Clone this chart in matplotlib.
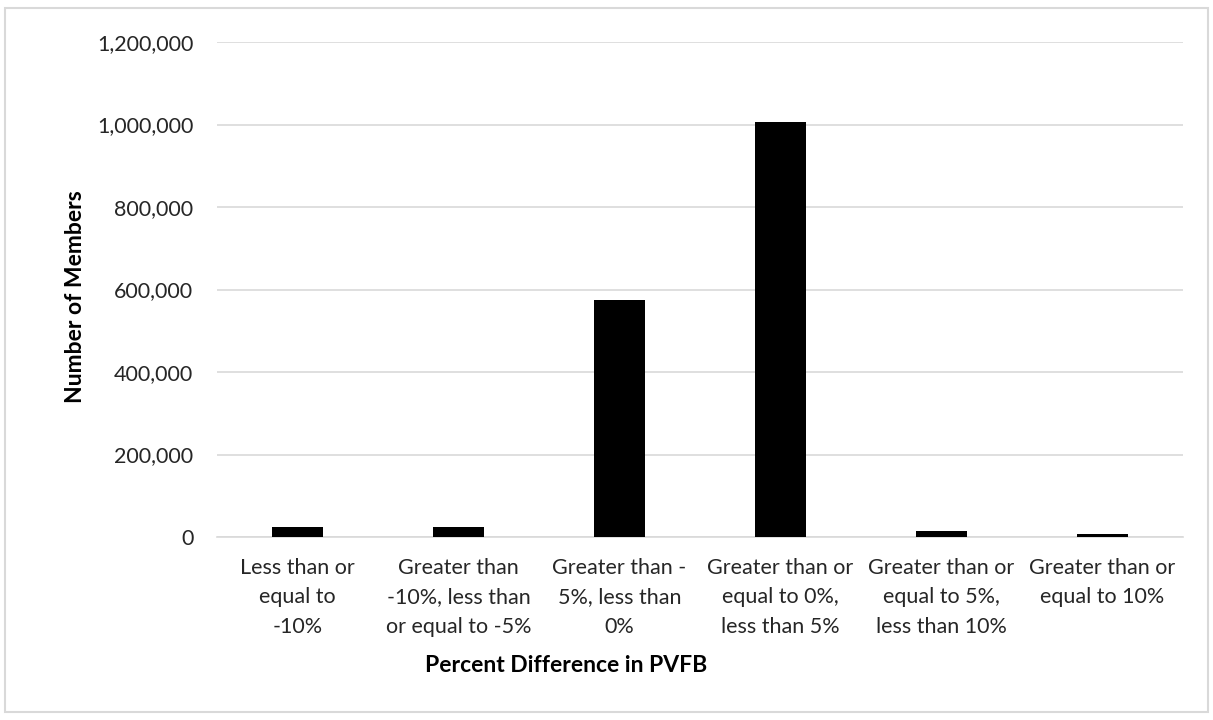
import matplotlib
matplotlib.use("Agg")
import matplotlib.pyplot as plt
from matplotlib.patches import Rectangle
from matplotlib.ticker import FuncFormatter

categories = [
    "Less than or\nequal to\n-10%",
    "Greater than\n-10%, less than\nor equal to -5%",
    "Greater than -\n5%, less than\n0%",
    "Greater than or\nequal to 0%,\nless than 5%",
    "Greater than or\nequal to 5%,\nless than 10%",
    "Greater than or\nequal to 10%",
]
members = [24000, 24000, 574000, 1005000, 15000, 8000]
yticks = [0, 200000, 400000, 600000, 800000, 1000000, 1200000]

plt.rcParams['font.family'] = ['Lato', 'DejaVu Sans']

fig = plt.figure(figsize=(12.13, 7.2), dpi=100)
ax = fig.add_axes([217/1213, 1 - 537/720, (1183-217)/1213, (537-42)/720])

x = list(range(len(categories)))
ax.bar(x, members, width=0.32, color='black', zorder=3)
ax.set_xlim(-0.5, len(categories) - 0.5)
ax.set_ylim(0, 1200000)
ax.set_yticks(yticks)
ax.yaxis.set_major_formatter(FuncFormatter(lambda v, p: f"{int(v):,}"))
ax.set_xticks(x)
ax.set_xticklabels(categories, fontsize=15.5, color='#262626', linespacing=1.6)
ax.tick_params(axis='y', labelsize=15.5, labelcolor='#262626', length=0, pad=17)
ax.tick_params(axis='x', length=0, pad=15)
ax.grid(axis='y', color='#d9d9d9', linewidth=1.2, zorder=0)
for s in ['top', 'right', 'left']:
    ax.spines[s].set_visible(False)
ax.spines['bottom'].set_color('#d9d9d9')
ax.spines['bottom'].set_linewidth(1.2)

ax.set_ylabel("Number of Members", fontsize=16.5, fontweight='bold', color='black')
ax.yaxis.set_label_coords((75-217)/(1183-217), (537-297)/(537-42))
ax.set_xlabel("Percent Difference in PVFB", fontsize=16.5, fontweight='bold', color='black')
ax.xaxis.set_label_coords((566-217)/(1183-217), (537-665)/(537-42))
ax.xaxis.label.set_va('center')
ax.yaxis.label.set_va('center')

fig.patches.append(Rectangle((5/1213, 8/720), 1203/1213, 704/720, transform=fig.transFigure,
                             fill=False, edgecolor='#d9d9d9', linewidth=1.5))

fig.savefig("out.png", dpi=100, facecolor='white')
